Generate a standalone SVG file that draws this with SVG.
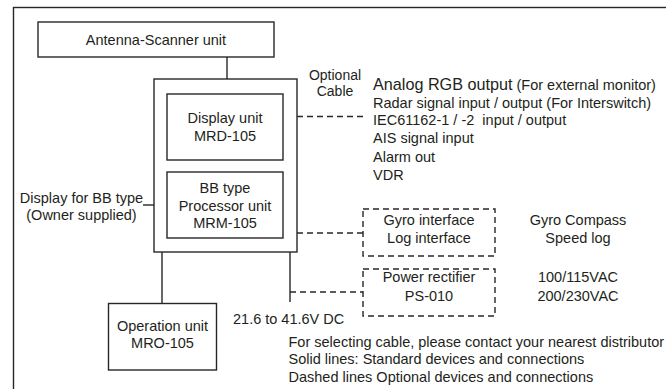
<svg xmlns="http://www.w3.org/2000/svg" width="666" height="389" viewBox="0 0 666 389">
<style>
.b{fill:#fff;stroke:#2a2627;stroke-width:1.4}
.d{fill:none;stroke:#2a2627;stroke-width:1.4;stroke-dasharray:6,4}
.s{fill:none;stroke:#2a2627;stroke-width:1.4}
text{font-family:"Liberation Sans",Arial,sans-serif;font-size:14.5px;fill:#231f20}
.c{text-anchor:middle}
</style>
<rect width="666" height="389" fill="#fff"/>
<rect x="13.5" y="7.5" width="700" height="420" class="s"/>
<g id="connectors">
<line x1="227" y1="57" x2="227" y2="79" class="s"/>
<line x1="143" y1="205" x2="167" y2="205" class="s"/>
<line x1="162" y1="252" x2="162" y2="303" class="s"/>
<line x1="290" y1="252" x2="290" y2="302" class="s"/>
<line x1="297" y1="116.5" x2="366" y2="116.5" class="d"/>
<line x1="297" y1="233" x2="363" y2="233" class="d"/>
<line x1="290" y1="292" x2="363" y2="292" class="d"/>
</g>
<g id="antenna">
<rect x="38" y="22" width="236" height="35" class="b"/>
<text x="156" y="45" class="c">Antenna-Scanner unit</text>
</g>
<g id="main">
<rect x="154" y="79" width="143" height="173" class="b"/>
</g>
<g id="display">
<rect x="167" y="94" width="116" height="66" class="b"/>
<text x="225" y="123" class="c">Display unit</text>
<text x="225" y="140.5" class="c">MRD-105</text>
</g>
<g id="processor">
<rect x="167" y="172" width="116" height="66" class="b"/>
<text x="225" y="193" class="c">BB type</text>
<text x="225" y="210.5" class="c">Processor unit</text>
<text x="225" y="228" class="c">MRM-105</text>
</g>
<g id="bbdisplay">
<text x="81.5" y="203" class="c">Display for BB type</text>
<text x="81.5" y="220" class="c">(Owner supplied)</text>
</g>
<g id="operation">
<rect x="108.5" y="303.5" width="108" height="66.5" class="b"/>
<text x="162.5" y="330.5" class="c">Operation unit</text>
<text x="162.5" y="348" class="c">MRO-105</text>
</g>
<g id="gyro">
<rect x="363" y="209" width="132" height="47" class="d"/>
<text x="429" y="225" class="c">Gyro interface</text>
<text x="429" y="243" class="c">Log interface</text>
</g>
<g id="power">
<rect x="363" y="269" width="132" height="47" class="d"/>
<text x="429" y="282" class="c">Power rectifier</text>
<text x="429" y="301" class="c">PS-010</text>
</g>
<g id="labels">
<text x="335" y="80" class="c" style="font-size:14px">Optional</text>
<text x="335" y="96" class="c" style="font-size:14px">Cable</text>
<text x="373" y="90"><tspan style="font-size:16.2px">Analog RGB output</tspan> (For external monitor)</text>
<text x="373" y="107.5">Radar signal input / output (For Interswitch)</text>
<text x="373" y="125" xml:space="preserve">IEC61162-1 / -2  input / output</text>
<text x="373" y="143.3">AIS signal input</text>
<text x="373" y="161.6">Alarm out</text>
<text x="373" y="180">VDR</text>
<text x="578" y="225" class="c">Gyro Compass</text>
<text x="578" y="243" class="c">Speed log</text>
<text x="578" y="282" class="c">100/115VAC</text>
<text x="578" y="301" class="c">200/230VAC</text>
<text x="233" y="323.5">21.6 to 41.6V DC</text>
<text x="288.5" y="346.5">For selecting cable, please contact your nearest distributor</text>
<text x="288.5" y="364">Solid lines: Standard devices and connections</text>
<text x="288.5" y="381.5">Dashed lines Optional devices and connections</text>
</g>
</svg>
